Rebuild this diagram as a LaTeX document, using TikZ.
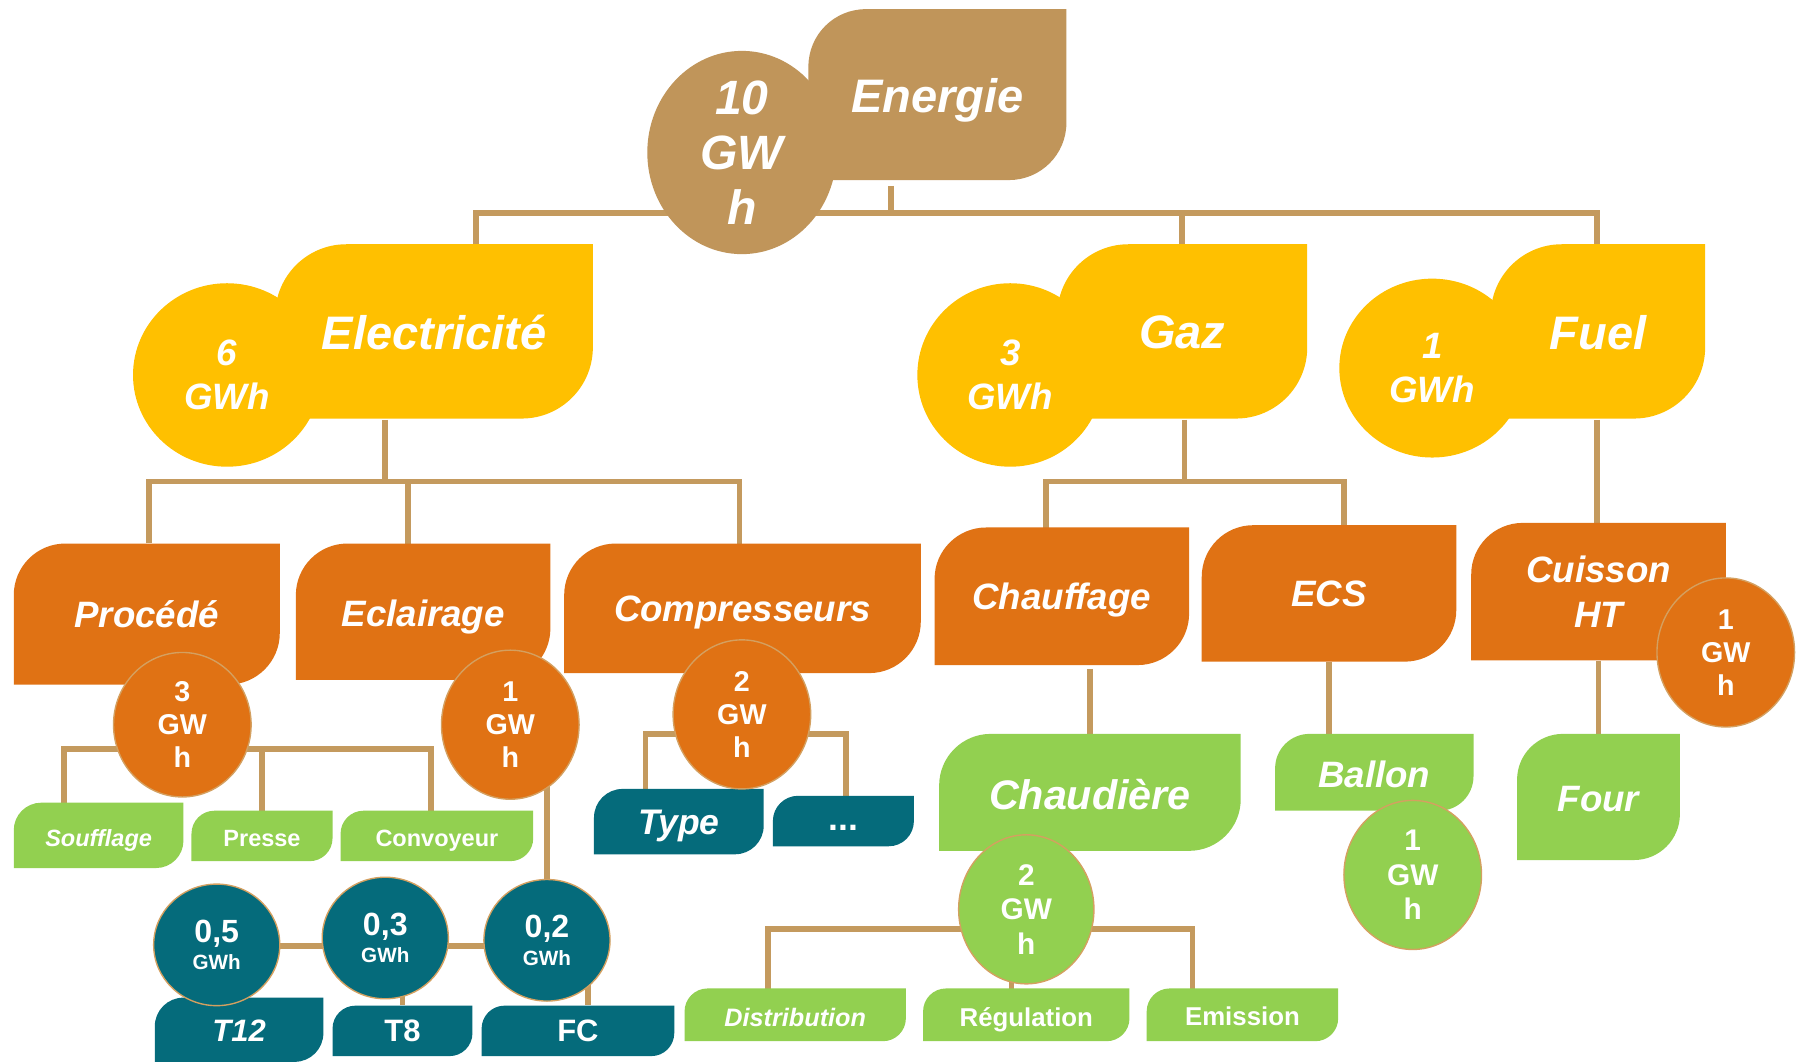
\documentclass[tikz,border=0pt]{standalone}
\usepackage{fontspec}
\setmainfont{Liberation Sans}
\usetikzlibrary{shapes.geometric}
\definecolor{tanc}{HTML}{C0955A}
\definecolor{linec}{HTML}{C49A5E}
\definecolor{yelc}{HTML}{FFC000}
\definecolor{orac}{HTML}{E07214}
\definecolor{grnc}{HTML}{92D050}
\definecolor{tealc}{HTML}{056B7B}
\definecolor{rimc}{HTML}{D4A060}
\pgfdeclarelayer{bg}
\pgfsetlayers{bg,main}
\newcommand\fsz[2]{\fontsize{#1}{#2}\selectfont}
% #1 name, #2 x1, #3 y1, #4 x2, #5 y2, #6 radius, #7 colour, #8 node options, #9 text
\newcommand\leafnode[9]{%
  \pgfmathsetmacro\lfa{#3+#6}%
  \pgfmathsetmacro\lfb{#3+#6*0.4477}%
  \pgfmathsetmacro\lfc{#2+#6*0.4477}%
  \pgfmathsetmacro\lfd{#2+#6}%
  \pgfmathsetmacro\lfe{#5-#6}%
  \pgfmathsetmacro\lff{#5-#6*0.4477}%
  \pgfmathsetmacro\lfg{#4-#6*0.4477}%
  \pgfmathsetmacro\lfh{#4-#6}%
  \fill[#7] (#2,\lfa) .. controls (#2,\lfb) and (\lfc,#3) .. (\lfd,#3) -- (#4,#3) -- (#4,\lfe) .. controls (#4,\lff) and (\lfg,#5) .. (\lfh,#5) -- (#2,#5) -- cycle;
  \pgfmathsetmacro\lfw{#4-#2}%
  \pgfmathsetmacro\lfht{#5-#3}%
  \node[boxtext, #8, minimum width=\lfw, minimum height=\lfht] (#1) at ({(#2+#4)/2},{(#3+#5)/2}) {#9};
}
\begin{document}
\begin{tikzpicture}[x=1pt,y=-1pt,
  boxtext/.style={text=white, inner sep=0pt, align=center},
  conn/.style={draw=linec, line width=5pt},
  bub/.style={ellipse, inner sep=0pt, text=white, align=center},
  rim/.style={draw=rimc, line width=1.2pt}]
\useasboundingbox (0,0) rectangle (1568,926);

% ---------- level 1
\leafnode{energie}{705}{8}{930}{157}{50}{tanc}{font=\fsz{41}{45}\bfseries\itshape, yshift=-5pt}{Energie}
\node[bub, fill=tanc, minimum width=165, minimum height=156, font=\fsz{42}{48}\bfseries\itshape] (ec0) at (647,133) {10\\GW\\h};

% ---------- level 2
\leafnode{elec}{240}{213}{517}{365}{62}{yelc}{font=\fsz{41}{45}\bfseries\itshape, yshift=-1pt}{Electricité}
\node[bub, fill=yelc, minimum width=164, minimum height=160, font=\fsz{32}{39}\bfseries\itshape] (ecel) at (198,327) {6\\GWh};
\leafnode{gaz}{922}{213}{1140}{365}{62}{yelc}{font=\fsz{41}{45}\bfseries\itshape, yshift=-1pt}{Gaz}
\node[bub, fill=yelc, minimum width=162, minimum height=160, font=\fsz{32}{39}\bfseries\itshape] (ecgaz) at (881,327) {3\\GWh};
\leafnode{fuel}{1300}{213}{1487}{365}{62}{yelc}{font=\fsz{41}{45}\bfseries\itshape, yshift=-1pt}{Fuel}
\node[bub, fill=yelc, minimum width=162, minimum height=156, font=\fsz{32}{39}\bfseries\itshape] (ecfuel) at (1249,321) {1\\GWh};

% ---------- level 3
\leafnode{proc}{12}{474}{244}{597}{45}{orac}{font=\fsz{32}{36}\bfseries\itshape}{Procédé}
\leafnode{eclair}{258}{474}{480}{593}{45}{orac}{font=\fsz{32}{36}\bfseries\itshape, yshift=-5pt}{Eclairage}
\leafnode{compr}{492}{474}{803}{587}{45}{orac}{font=\fsz{32}{36}\bfseries\itshape, yshift=-4pt}{Compresseurs}
\leafnode{chauff}{815}{460}{1037}{580}{45}{orac}{font=\fsz{32}{36}\bfseries\itshape, yshift=-3pt}{Chauffage}
\leafnode{ecs}{1048}{458}{1270}{577}{45}{orac}{font=\fsz{32}{36}\bfseries\itshape}{ECS}
\leafnode{cuis}{1283}{456}{1505}{576}{45}{orac}{font=\fsz{32}{39}\bfseries\itshape}{Cuisson\\HT}

% ---------- level 4
\leafnode{souf}{12}{700}{160}{757}{24}{grnc}{font=\fsz{20.5}{24}\bfseries\itshape, yshift=-4pt}{Soufflage}
\leafnode{pres}{167}{707}{290}{751}{20}{grnc}{font=\fsz{20.5}{24}\bfseries, yshift=-2pt}{Presse}
\leafnode{conv}{297}{707}{465}{751}{20}{grnc}{font=\fsz{20.5}{24}\bfseries, yshift=-4pt}{Convoyeur}
\leafnode{type}{518}{688}{666}{745}{25}{tealc}{font=\fsz{31}{34}\bfseries\itshape, yshift=-4pt}{Type}
\leafnode{dots}{674}{694}{797}{738}{22}{tealc}{font=\fsz{31}{34}\bfseries, yshift=-6pt}{...}
\leafnode{chaud}{819}{640}{1082}{742}{45}{grnc}{font=\fsz{36}{40}\bfseries\itshape, yshift=-2pt}{Chaudière}
\leafnode{ballon}{1112}{640}{1285}{707}{30}{grnc}{font=\fsz{32}{36}\bfseries\itshape, yshift=-2pt}{Ballon}
\leafnode{four}{1323}{640}{1465}{750}{40}{grnc}{font=\fsz{32}{36}\bfseries\itshape, yshift=-2pt}{Four}

% ---------- level 5
\leafnode{t12}{135}{870}{282}{926}{25}{tealc}{font=\fsz{27}{30}\bfseries\itshape, yshift=-1pt}{T12}
\leafnode{t8}{290}{877}{412}{921}{20}{tealc}{font=\fsz{27}{30}\bfseries}{T8}
\leafnode{fc}{420}{877}{588}{921}{20}{tealc}{font=\fsz{27}{30}\bfseries}{FC}
\leafnode{dist}{597}{862}{790}{908}{20}{grnc}{font=\fsz{22}{26}\bfseries\itshape, yshift=-2pt}{Distribution}
\leafnode{reg}{805}{862}{985}{908}{20}{grnc}{font=\fsz{22.5}{26}\bfseries, yshift=-4pt}{Régulation}
\leafnode{emis}{1000}{862}{1167}{908}{20}{grnc}{font=\fsz{22.5}{26}\bfseries, yshift=-1pt}{Emission}

% ---------- value bubbles
\node[bub, rim, fill=orac, minimum width=120, minimum height=126, font=\fsz{25}{29}\bfseries] (pc) at (159,632) {3\\GW\\h};
\node[bub, rim, fill=orac, minimum width=120, minimum height=130, font=\fsz{25}{29}\bfseries] (ecc) at (445,632) {1\\GW\\h};
\node[bub, rim, fill=orac, minimum width=120, minimum height=130, font=\fsz{25}{29}\bfseries] (cc) at (647,623) {2\\GW\\h};
\node[bub, rim, fill=orac, minimum width=120, minimum height=130, font=\fsz{25}{29}\bfseries] (cuc) at (1505,569) {1\\GW\\h};
\node[bub, rim, fill=grnc, minimum width=118, minimum height=130, font=\fsz{26}{30}\bfseries] (chc) at (895,793) {2\\GW\\h};
\node[bub, rim, fill=grnc, minimum width=120, minimum height=130, font=\fsz{26}{30}\bfseries] (bac) at (1232,763) {1\\GW\\h};
\node[bub, rim, fill=tealc, minimum width=110, minimum height=106, font=\fsz{18}{24}\bfseries] (c05) at (189,824) {{\fsz{28}{28}0,5}\\GWh};
\node[bub, rim, fill=tealc, minimum width=110, minimum height=106, font=\fsz{18}{24}\bfseries] (c03) at (336,818) {{\fsz{28}{28}0,3}\\GWh};
\node[bub, rim, fill=tealc, minimum width=110, minimum height=106, font=\fsz{18}{24}\bfseries] (c02) at (477,820) {{\fsz{28}{28}0,2}\\GWh};

% ---------- connectors
\begin{pgfonlayer}{bg}
\fill[white] (0,0) rectangle (1568,926);
\coordinate (b0L) at (415,186); \coordinate (b0R) at (1393,186); \coordinate (b0M) at (777,186);
\draw[conn] (elec.north -| b0L) -- (b0L) -- (b0R) -- (fuel.north -| b0R);
\draw[conn] (energie.south -| b0M) -- (b0M);
\draw[conn] (gaz.north) -- (gaz.north |- b0L);

\coordinate (b1L) at (130,420); \coordinate (b1R) at (645,420);
\coordinate (b1M) at (336,420); \coordinate (b1C) at (356,420);
\draw[conn] (proc.north -| b1L) -- (b1L) -- (b1R) -- (compr.north -| b1R);
\draw[conn] (elec.south -| b1M) -- (b1M);
\draw[conn] (eclair.north -| b1C) -- (b1C);

\coordinate (b2L) at (912,420); \coordinate (b2R) at (1172,420); \coordinate (b2M) at (1033,420);
\draw[conn] (chauff.north -| b2L) -- (b2L) -- (b2R) -- (ecs.north -| b2R);
\draw[conn] (gaz.south -| b2M) -- (b2M);
\draw[conn] (fuel.south -| b0R) -- (cuis.north -| b0R);

\coordinate (b3L) at (56,653); \coordinate (b3R) at (376,653);
\draw[conn] (souf.north -| b3L) -- (b3L) -- (b3R) -- (conv.north -| b3R);
\draw[conn] (pres.north) -- (pres.north |- b3L);

\draw[conn] (ecc.center -| c02) -- (c02);
\coordinate (tb) at (0,825);
\draw[conn] (c05 |- tb) -- (c02 |- tb);
\draw[conn] (c03.center -| t8.north) -- (t8.north);
\coordinate (xfc) at (513,0);
\draw[conn] (c02.center -| xfc) -- (fc.north -| xfc);

\coordinate (b4L) at (563,640); \coordinate (b4R) at (738,640);
\draw[conn] (type.north -| b4L) -- (b4L) -- (b4R) -- (dots.north -| b4R);

\draw[conn] (chauff.south -| chaud.north) -- (chaud.north);
\coordinate (b5L) at (670,810); \coordinate (b5R) at (1040,810); \coordinate (b5M) at (882,810);
\draw[conn] (dist.north -| b5L) -- (b5L) -- (b5R) -- (emis.north -| b5R);
\draw[conn] (b5M) -- (reg.north -| b5M);
\draw[conn] (ecs.south) -- (ballon.north -| ecs.south);
\draw[conn] (cuis.south) -- (four.north -| cuis.south);
\end{pgfonlayer}
\end{tikzpicture}
\end{document}
